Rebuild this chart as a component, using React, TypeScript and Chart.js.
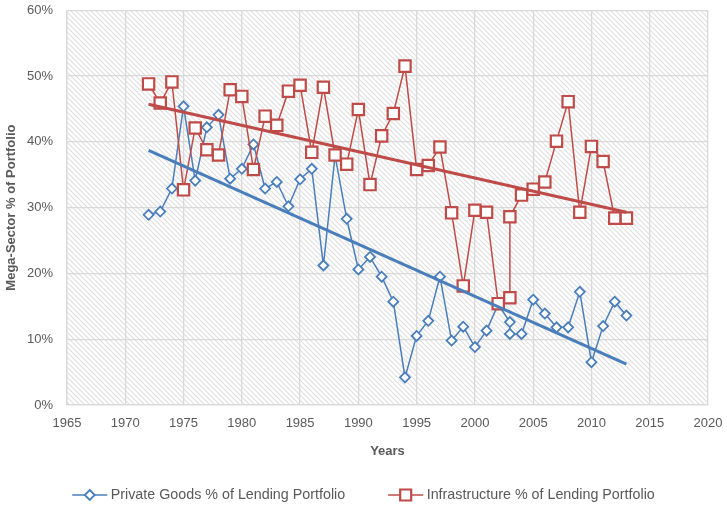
import React, { useEffect, useRef } from 'react';
import { Chart, registerables } from 'chart.js';

Chart.register(...registerables);

const years = [
  1972, 1973, 1974, 1975, 1976, 1977, 1978, 1979, 1980, 1981, 1982, 1983, 1984, 1985,
  1986, 1987, 1988, 1989, 1990, 1991, 1992, 1993, 1994, 1995, 1996, 1997, 1998, 1999,
  2000, 2001, 2002, 2003, 2003, 2004, 2005, 2006, 2007, 2008, 2009, 2010, 2011, 2012, 2013,
];

const privateGoods = [
  28.9, 29.4, 32.9, 45.4, 34.1, 42.2, 44.1, 34.4, 35.9, 39.6, 32.9, 33.9, 30.2, 34.3,
  35.9, 21.2, 37.9, 28.3, 20.6, 22.5, 19.5, 15.7, 4.2, 10.5, 12.8, 19.5, 9.8, 11.9,
  8.8, 11.3, 15.3, 12.6, 10.8, 10.8, 16.0, 13.9, 11.8, 11.8, 17.2, 6.5, 12.0, 15.7, 13.6,
];

const infrastructure = [
  48.8, 45.9, 49.1, 32.7, 42.1, 38.8, 38.0, 47.9, 46.9, 35.8, 43.9, 42.5, 47.7, 48.6,
  38.4, 48.3, 38.0, 36.6, 44.9, 33.5, 40.9, 44.3, 51.5, 35.8, 36.4, 39.2, 29.2, 18.1,
  29.6, 29.3, 15.4, 16.3, 28.6, 31.9, 32.8, 33.9, 40.1, 46.1, 29.3, 39.3, 37.0, 28.4, 28.4,
];

const trendYears = [1972, 2013];
const privateTrend = [38.7, 6.2];
const infraTrend = [45.7, 29.3];

const seriesLabels = ['Private Goods % of Lending Portfolio', 'Infrastructure % of Lending Portfolio'];
const xAxisTitle = 'Years';
const yAxisTitle = 'Mega-Sector % of Portfolio';
const xRange = [1965, 2020, 5];
const yRange = [0, 60, 10];

const BLUE = '#4A7EBB';
const RED = '#BE4B48';
const TEXT = '#595959';
const GRID = '#d9d9d9';
const FONT = "'Liberation Sans', Arial, sans-serif";

function drawIcon(g: CanvasRenderingContext2D, x: number, y: number, color: string, style: 'diamond' | 'square') {
  g.save();
  g.strokeStyle = color;
  g.lineWidth = 1.5;
  g.beginPath();
  g.moveTo(x, y);
  g.lineTo(x + 35, y);
  g.stroke();
  const cx = x + 17.5;
  g.fillStyle = '#ffffff';
  g.beginPath();
  if (style === 'diamond') {
    g.lineWidth = 1.8;
    g.moveTo(cx, y - 5);
    g.lineTo(cx + 5, y);
    g.lineTo(cx, y + 5);
    g.lineTo(cx - 5, y);
    g.closePath();
  } else {
    g.lineWidth = 2.2;
    g.rect(cx - 5.5, y - 5.5, 11, 11);
  }
  g.fill();
  g.stroke();
  g.restore();
}

function hatchPattern(ctx: CanvasRenderingContext2D): CanvasPattern | string {
  const t = document.createElement('canvas');
  const s = 5;
  t.width = s;
  t.height = s;
  const g = t.getContext('2d')!;
  g.fillStyle = '#ffffff';
  g.fillRect(0, 0, s, s);
  g.strokeStyle = '#e0e0e0';
  g.lineWidth = 1.2;
  g.beginPath();
  g.moveTo(-1, -1);
  g.lineTo(s + 1, s + 1);
  g.moveTo(-1, s - 1);
  g.lineTo(1, s + 1);
  g.moveTo(s - 1, -1);
  g.lineTo(s + 1, 1);
  g.stroke();
  return ctx.createPattern(t, 'repeat') || '#ffffff';
}

const bgPlugin = {
  id: 'bgHatch',
  beforeDraw(chart: any) {
    const { ctx, chartArea } = chart;
    ctx.save();
    ctx.fillStyle = '#ffffff';
    ctx.fillRect(0, 0, chart.width, chart.height);
    ctx.fillStyle = hatchPattern(ctx);
    ctx.fillRect(chartArea.left, chartArea.top, chartArea.right - chartArea.left, chartArea.bottom - chartArea.top);
    ctx.restore();
  },
};

const legendPlugin = {
  id: 'lineLegend',
  afterDraw(chart: any) {
    const g: CanvasRenderingContext2D = chart.ctx;
    g.save();
    g.font = `14.3px ${FONT}`;
    g.fillStyle = TEXT;
    g.textBaseline = 'middle';
    g.textAlign = 'left';
    const iconW = 35;
    const gapIT = 3.5;
    const gapItems = 43;
    const w0 = g.measureText(seriesLabels[0]).width;
    const w1 = g.measureText(seriesLabels[1]).width;
    const total = iconW + gapIT + w0 + gapItems + iconW + gapIT + w1;
    let x = chart.width / 2 - total / 2;
    const y = chart.height - 12;
    drawIcon(g, x, y, BLUE, 'diamond');
    g.fillText(seriesLabels[0], x + iconW + gapIT, y);
    x += iconW + gapIT + w0 + gapItems;
    drawIcon(g, x, y, RED, 'square');
    g.fillStyle = TEXT;
    g.fillText(seriesLabels[1], x + iconW + gapIT, y);
    g.restore();
  },
};

export default function App() {
  const ref = useRef<HTMLCanvasElement | null>(null);

  useEffect(() => {
    if (!ref.current) return;
    const pts = (ys: number[], xs: number[]) => xs.map((x, i) => ({ x, y: ys[i] }));
    const chart = new Chart(ref.current, {
      type: 'scatter',
      data: {
        datasets: [
          {
            label: seriesLabels[0],
            data: pts(privateGoods, years),
            showLine: true,
            borderColor: BLUE,
            borderWidth: 1.5,
            pointStyle: 'rectRot',
            pointRadius: 5,
            pointBorderWidth: 1.8,
            pointBackgroundColor: '#ffffff',
            pointBorderColor: BLUE,
            order: 4,
          },
          {
            label: seriesLabels[1],
            data: pts(infrastructure, years),
            showLine: true,
            borderColor: RED,
            borderWidth: 1.5,
            pointStyle: 'rect',
            pointRadius: 8,
            pointBorderWidth: 2.2,
            pointBackgroundColor: '#ffffff',
            pointBorderColor: RED,
            order: 3,
          },
          {
            label: 'trend-private',
            data: pts(privateTrend, trendYears),
            showLine: true,
            borderColor: BLUE,
            borderWidth: 3,
            pointRadius: 0,
            order: 2,
          },
          {
            label: 'trend-infra',
            data: pts(infraTrend, trendYears),
            showLine: true,
            borderColor: RED,
            borderWidth: 3,
            pointRadius: 0,
            order: 1,
          },
        ],
      },
      options: {
        animation: false,
        responsive: false,
        maintainAspectRatio: false,
        layout: { padding: { top: 10, right: 19, left: 0, bottom: 0 } },
        plugins: {
          tooltip: { enabled: false },
          legend: { display: false },
        },
        scales: {
          x: {
            type: 'linear',
            min: xRange[0],
            max: xRange[1],
            afterFit: (s: any) => {
              s.height = 102;
              s.paddingLeft = 0;
              s.paddingRight = 0;
            },
            ticks: {
              stepSize: xRange[2],
              color: TEXT,
              font: { family: FONT, size: 13 },
              padding: 11,
              callback: (v: any) => String(v),
            },
            grid: { color: GRID, lineWidth: 1.3, drawTicks: false },
            border: { color: GRID, width: 1.3 },
            title: {
              display: true,
              text: xAxisTitle,
              color: TEXT,
              font: { family: FONT, size: 13, weight: 'bold' },
              padding: { top: 0, bottom: 48 },
            },
          },
          y: {
            min: yRange[0],
            max: yRange[1],
            afterFit: (s: any) => {
              s.width = 67;
              s.paddingTop = 0;
              s.paddingBottom = 0;
            },
            ticks: {
              stepSize: yRange[2],
              color: TEXT,
              font: { family: FONT, size: 13 },
              padding: 14,
              callback: (v: any) => v + '%',
            },
            grid: { color: GRID, lineWidth: 1.3, drawTicks: false },
            border: { color: GRID, width: 1.3 },
            title: {
              display: true,
              text: yAxisTitle,
              color: TEXT,
              font: { family: FONT, size: 13, weight: 'bold' },
              padding: { top: 4, bottom: 0 },
            },
          },
        },
      },
      plugins: [bgPlugin, legendPlugin],
    } as any);
    return () => chart.destroy();
  }, []);

  return (
    <div style={{ position: 'fixed', left: 0, top: 0, width: 727, height: 507, background: '#fff' }}>
      <canvas ref={ref} width={727} height={507} style={{ width: 727, height: 507, display: 'block' }} />
    </div>
  );
}
